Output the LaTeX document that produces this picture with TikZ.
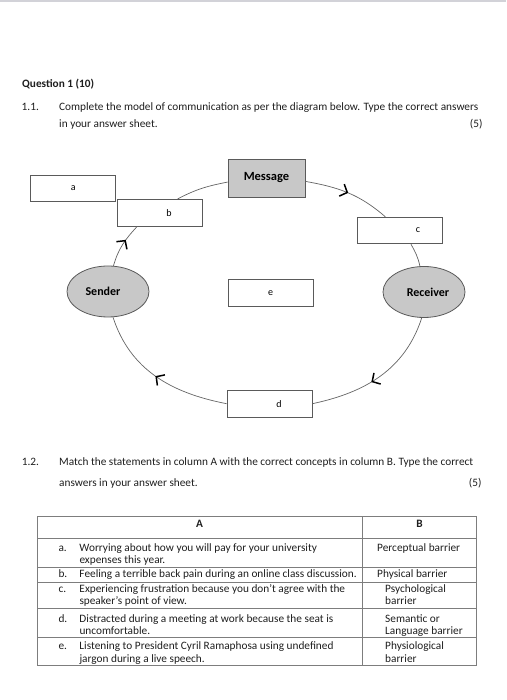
\documentclass[tikz,border=0pt]{standalone}
\usepackage{fontspec}
\setmainfont{Carlito}
\usetikzlibrary{arrows.meta,decorations.markings,shapes.geometric}
\definecolor{inkgrey}{RGB}{30,30,30}
\definecolor{boxline}{RGB}{90,90,90}
\definecolor{boxfill}{RGB}{200,200,200}
\definecolor{flowline}{RGB}{100,100,100}
\definecolor{ruleline}{RGB}{125,125,125}
\definecolor{topbar}{RGB}{210,210,216}
\newcommand{\bodyfont}{\fontsize{11.3}{17}\selectfont}
\newcommand{\cellfont}{\fontsize{11.3}{12.8}\selectfont}
\newcommand{\itemlabel}[1]{\makebox[21pt][l]{#1}}
\tikzset{
  bodytext/.style={font=\bodyfont, text=inkgrey, inner sep=0pt},
  celltext/.style={font=\cellfont, text=inkgrey, inner sep=0pt,
    align=left, anchor=base west},
  answerbox/.style={draw=boxline, fill=white, line width=0.8pt, inner sep=0pt,
    minimum width=85pt, minimum height=26.5pt, font=\fontsize{10}{12}\selectfont},
  partybox/.style={ellipse, draw=boxline, fill=boxfill, line width=0.8pt,
    inner sep=0pt, minimum width=82pt, minimum height=51pt,
    font=\fontsize{12}{14}\selectfont\bfseries},
  messagebox/.style={draw=boxline, fill=boxfill, line width=0.8pt, inner sep=0pt,
    minimum width=77pt, minimum height=38pt,
    font=\fontsize{12.5}{14}\selectfont\bfseries},
  flow/.style={draw=flowline, line width=0.7pt},
  midarrow/.style={flow, postaction={decorate}, decoration={markings,
    mark=at position #1 with {\arrow[black,line width=1.5pt]{Straight Barb[length=6pt,width=13pt]}}}},
  tablerule/.style={draw=ruleline, line width=0.6pt}
}
\begin{document}
\begin{tikzpicture}[x=1pt,y=1pt]
  \useasboundingbox (0,0) rectangle (506,700);
  \fill[topbar] (0,697.5) rectangle (506,700);

  % question 1.1 (multi-line nodes sit on their last baseline)
  \node[bodytext, font=\bodyfont\bfseries, anchor=base west] (qtitle) at (22,612.5)
    {Question 1 (10)};
  \node[bodytext, anchor=base west] (num11) at (21.5,589) {1.1.};
  \node[bodytext, anchor=base west, align=left] (task11) at (59,572)
    {Complete the model of communication as per the diagram below. Type the correct answers\\
     in your answer sheet.};
  \node[bodytext, anchor=base east] (mark11) at (482.7,572) {(5)};

  % model of communication
  \node[answerbox] (a) at (73.2,511.8) {a};
  \node[answerbox] (b) at (160,487.3) {\hspace*{18pt}b};
  \node[messagebox] (msg) at (266.5,522) {\raisebox{-1.5pt}{Message}};
  \node[answerbox] (c) at (399.5,469.5) {\hspace*{37pt}c};
  \node[partybox] (sender) at (108,408.5) {Sender\hspace*{10pt}};
  \node[answerbox] (e) at (270.5,407) {e};
  \node[partybox] (receiver) at (424,408) {\hspace*{8pt}Receiver};
  \node[answerbox] (d) at (269.5,296.3) {\hspace*{19pt}d};

  \draw[midarrow=0.62] (sender.78) to[out=74,in=227] (b.211);
  \draw[flow] (b.38) to[out=28,in=191] (msg.186);
  \draw[midarrow=0.5] (msg.355) to[out=-10,in=139] (c.136);
  \draw[flow] (c.-50) to[out=-61,in=102] (receiver.99);
  \draw[midarrow=0.57] (receiver.265) to[out=252,in=12] (d.east);
  \draw[midarrow=0.51] (d.west) to[out=169,in=-72] (sender.281);

  % question 1.2
  \node[bodytext, anchor=base west] (num12) at (21.7,234) {1.2.};
  \node[bodytext, font=\fontsize{11.3}{21}\selectfont, anchor=base west, align=left]
    (task12) at (59,213)
    {Match the statements in column A with the correct concepts in column B. Type the correct\\
     answers in your answer sheet.};
  \node[bodytext, anchor=base east] (mark12) at (481.7,213) {(5)};

  % matching table
  \draw[tablerule] (37,35) rectangle (476.5,184);
  \draw[tablerule] (362.3,35) -- (362.3,184);
  \foreach \rowy in {162,133,118,92,62.5}
    \draw[tablerule] (37,\rowy) -- (476.5,\rowy);

  \node[celltext, font=\cellfont\bfseries, anchor=base] (colA) at (199.5,172) {A};
  \node[celltext, font=\cellfont\bfseries, anchor=base] (colB) at (419.5,172) {B};

  \node[celltext] (rowa) at (58.3,136)
    {\itemlabel{a.}Worrying about how you will pay for your university\\
     \hspace*{21pt}expenses this year.};
  \node[celltext] (rowb) at (58.3,122.2)
    {\itemlabel{b.}Feeling a terrible back pain during an online class discussion.};
  \node[celltext] (rowc) at (58.3,95)
    {\itemlabel{c.}Experiencing frustration because you don’t agree with the\\
     \hspace*{21pt}speaker’s point of view.};
  \node[celltext] (rowd) at (58.3,65.1)
    {\itemlabel{d.}Distracted during a meeting at work because the seat is\\
     \hspace*{21pt}uncomfortable.};
  \node[celltext] (rowe) at (58.3,37.6)
    {\itemlabel{e.}Listening to President Cyril Ramaphosa using undefined\\
     \hspace*{21pt}jargon during a live speech.};

  \node[celltext] (conA) at (377,148.8) {Perceptual barrier};
  \node[celltext] (conB) at (377,122.2) {Physical barrier};
  \node[celltext] (conC) at (385,95) {Psychological\\barrier};
  \node[celltext] (conD) at (385,65.1) {Semantic or\\Language barrier};
  \node[celltext] (conE) at (385,37.6) {Physiological\\barrier};
\end{tikzpicture}
\end{document}
